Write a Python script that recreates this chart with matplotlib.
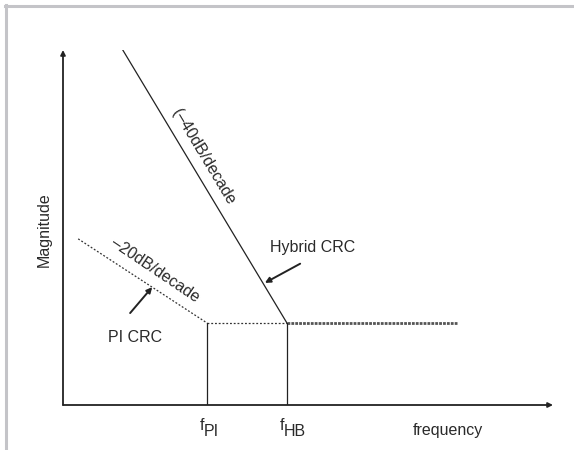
import matplotlib
matplotlib.use('Agg')
import matplotlib.pyplot as plt
from matplotlib.lines import Line2D

plt.rcParams['font.family'] = ['Liberation Sans', 'DejaVu Sans']

# Bode-style asymptotes (arbitrary units, origin at the axes corner)
hybrid_x = [1.22, 4.57]      # -40dB/decade slope of the hybrid CRC
hybrid_y = [10.0, 2.31]
pi_x = [0.31, 2.94]          # -20dB/decade slope of the PI CRC
pi_y = [4.68, 2.31]
flat_pi_x = [2.94, 4.57]     # flat part PI only
flat_both_x = [4.57, 8.04]   # flat part, both overlap
flat_y = 2.31
f_pi = 2.94
f_hb = 4.57

fig = plt.figure(figsize=(5.74, 4.5), dpi=100)
ax = fig.add_axes([63/574, 45/450, 490/574, 355/450])
ax.set_xlim(0, 10)
ax.set_ylim(0, 10)
ax.axis('off')

# axes with arrow heads
arr = dict(arrowstyle='-|>', lw=1.3, color='#222222', mutation_scale=7, shrinkA=0, shrinkB=0)
ax.annotate('', xy=(10, 0), xytext=(0, 0), arrowprops=arr, annotation_clip=False)
ax.annotate('', xy=(0, 10), xytext=(0, 0), arrowprops=arr, annotation_clip=False)

# curves
ax.plot(hybrid_x, hybrid_y, color='#222222', lw=0.9)
ax.plot(pi_x, pi_y, color='#333333', lw=0.9, ls=(0, (1.5, 1.5)))
ax.plot(flat_pi_x, [flat_y, flat_y], color='#333333', lw=0.9, ls=(0, (1.5, 1.5)))
ax.plot(flat_both_x, [flat_y, flat_y], color='#555555', lw=2.0, ls=(0, (1, 0.4)))
ax.plot([f_pi, f_pi], [0, flat_y], color='#222222', lw=0.9)
ax.plot([f_hb, f_hb], [0, flat_y], color='#222222', lw=0.9)

fs = 11.5
tc = '#2a2a2a'
ax.text(2.86, 7.0, '(\u201340dB/decade', rotation=-59, ha='center', va='center',
        fontsize=fs, color=tc, rotation_mode='anchor')
ax.text(1.89, 3.8, '\u201320dB/decade', rotation=-34, ha='center', va='center',
        fontsize=fs, color=tc, rotation_mode='anchor')
ax.text(5.1, 4.45, 'Hybrid CRC', ha='center', va='center', fontsize=fs, color=tc)
ax.text(1.47, 1.89, 'PI CRC', ha='center', va='center', fontsize=fs, color=tc)

head = dict(arrowstyle='-|>', lw=1.4, color='#222222', mutation_scale=8, shrinkA=0, shrinkB=0)
ax.annotate('', xy=(4.12, 3.44), xytext=(4.84, 3.98), arrowprops=head)
ax.annotate('', xy=(1.82, 3.32), xytext=(1.37, 2.59), arrowprops=head)

# frequency labels: "f" with a large subscript
for xpos, sub in [(f_pi, 'PI'), (f_hb, 'HB')]:
    ax.text(xpos - 0.05, -0.58, 'f', ha='right', va='center', fontsize=fs, color=tc)
    ax.text(xpos - 0.06, -0.76, sub, ha='left', va='center', fontsize=fs, color=tc)
ax.text(7.86, -0.73, 'frequency', ha='center', va='center', fontsize=fs, color=tc)
ax.text(-0.39, 4.94, 'Magnitude', rotation=90, ha='center', va='center', fontsize=fs, color=tc)

# light grey frame on top and left
gc = '#c4c4c8'
fig.add_artist(Line2D([5/574, 1], [1 - 6/450, 1 - 6/450], color=gc, lw=2.2))
fig.add_artist(Line2D([6/574, 6/574], [0, 1 - 5/450], color=gc, lw=2.2))

fig.savefig('out.png', dpi=100)
